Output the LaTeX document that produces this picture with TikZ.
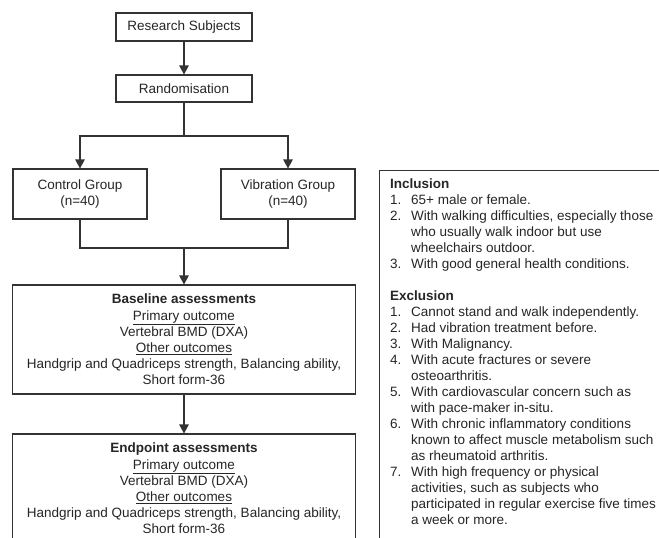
\documentclass[tikz,border=0pt]{standalone}
\usepackage{fontspec}
\setmainfont{Liberation Sans}
\usetikzlibrary{arrows.meta}
\begin{document}
\begin{tikzpicture}[x=1pt,y=-1pt,
  every node/.style={text=black!85},
  box/.style={draw=black!80, line width=1.1pt, rectangle, inner sep=0pt, align=center,
    font=\fontsize{13.5}{16.2}\selectfont},
  conn/.style={draw=black!80, line width=1.1pt},
  arr/.style={conn, -{Triangle[length=9pt,width=9.5pt]}}]
\useasboundingbox (0,0) rectangle (659,538);
\clip (0,0) rectangle (659,538);
\fill[white] (0,0) rectangle (659,538);

\node[box, minimum width=136, minimum height=28] (rs) at (184,27) {Research Subjects};
\node[box, minimum width=136, minimum height=27] (rand) at (184,88.5) {Randomisation};
\node[box, minimum width=134, minimum height=50] (ctrl) at (80,194) {Control Group\\(n=40)};
\node[box, minimum width=134, minimum height=50] (vib) at (288,194) {Vibration Group\\(n=40)};
\node[box, minimum width=343, minimum height=109] (base) at (184,339.5)
  {\textbf{Baseline assessments}\\\underline{Primary outcome}\\Vertebral BMD (DXA)\\\underline{Other outcomes}\\Handgrip and Quadriceps strength, Balancing ability,\\Short form-36};
\node[box, minimum width=343, minimum height=109] (endp) at (184,488.5)
  {\textbf{Endpoint assessments}\\\underline{Primary outcome}\\Vertebral BMD (DXA)\\\underline{Other outcomes}\\Handgrip and Quadriceps strength, Balancing ability,\\Short form-36};

\node[draw=black!80, line width=1.1pt, rectangle, inner sep=0pt, anchor=north west,
  minimum width=300, minimum height=380] (crit) at (379,170) {};
\newcommand{\itm}[1]{\makebox[21pt][l]{#1}}
\newcommand{\cnt}{\hspace*{21pt}}
\node[anchor=north west, inner sep=0pt, align=left, font=\fontsize{13.5}{16}\selectfont] (crittext) at (390,179)
  {\textbf{Inclusion}\\
   \itm{1.}65+ male or female.\\
   \itm{2.}With walking difficulties, especially those\\
   \cnt who usually walk indoor but use\\
   \cnt wheelchairs outdoor.\\
   \itm{3.}With good general health conditions.\\
   ~\\
   \textbf{Exclusion}\\
   \itm{1.}Cannot stand and walk independently.\\
   \itm{2.}Had vibration treatment before.\\
   \itm{3.}With Malignancy.\\
   \itm{4.}With acute fractures or severe\\
   \cnt osteoarthritis.\\
   \itm{5.}With cardiovascular concern such as\\
   \cnt with pace-maker in-situ.\\
   \itm{6.}With chronic inflammatory conditions\\
   \cnt known to affect muscle metabolism such\\
   \cnt as rheumatoid arthritis.\\
   \itm{7.}With high frequency or physical\\
   \cnt activities, such as subjects who\\
   \cnt participated in regular exercise five times\\
   \cnt a week or more.};

\coordinate (split) at (184,136);
\coordinate (join) at (184,248);
\draw[arr] (rs.south) -- (rand.north);
\draw[conn] (rand.south) -- (split);
\draw[arr] (split) -| (ctrl.north);
\draw[arr] (split) -| (vib.north);
\draw[conn] (ctrl.south) |- (join) -| (vib.south);
\draw[arr] (join) -- (base.north);
\draw[arr] (base.south) -- (endp.north);
\end{tikzpicture}
\end{document}
